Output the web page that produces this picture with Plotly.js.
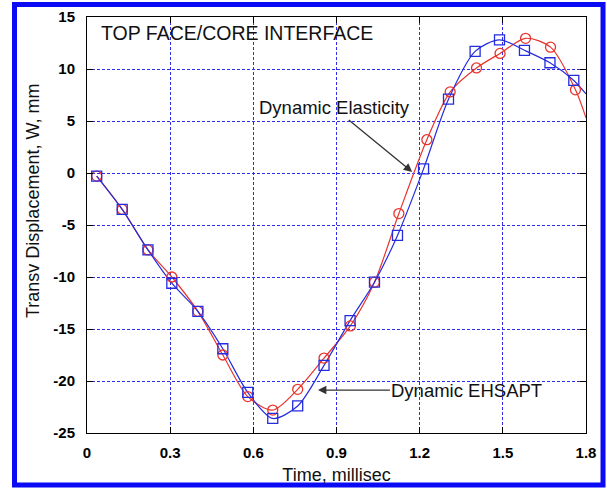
<!DOCTYPE html>
<html>
<head>
<meta charset="utf-8">
<script src="https://cdn.plot.ly/plotly-3.0.1.min.js"></script>
<style>
  html, body { margin: 0; padding: 0; background: #ffffff; }
  #chart { width: 607px; height: 496px; }
</style>
</head>
<body>
<div id="chart"></div>
<script>
// ---- data ----
// Dynamic Elasticity (red circles)
const elasT = [0.035, 0.127, 0.22, 0.306, 0.40, 0.49, 0.58, 0.67, 0.76, 0.855, 0.95, 1.037, 1.125, 1.226, 1.31, 1.405, 1.49, 1.582, 1.672, 1.762];
const elasW = [-0.3, -3.5, -7.4, -10.0, -13.3, -17.5, -21.5, -22.8, -20.8, -17.8, -14.7, -10.5, -3.9, 3.2, 7.8, 10.1, 11.5, 12.95, 12.1, 8.0];
const elasEndT = 1.8, elasEndW = 5.3;
// Dynamic EHSAPT (blue squares)
const ehsT = [0.035, 0.127, 0.22, 0.306, 0.40, 0.49, 0.58, 0.67, 0.76, 0.855, 0.949, 1.037, 1.12, 1.214, 1.304, 1.40, 1.488, 1.578, 1.67, 1.756];
const ehsW = [-0.3, -3.5, -7.4, -10.6, -13.3, -16.9, -21.1, -23.6, -22.4, -18.5, -14.2, -10.5, -6.0, 0.4, 7.1, 11.7, 12.8, 11.8, 10.6, 8.9];
const ehsEndT = 1.8, ehsEndW = 7.6;
// tick labels
const xTicks = [0, 0.3, 0.6, 0.9, 1.2, 1.5, 1.8];
const xTickText = ['0', '0.3', '0.6', '0.9', '1.2', '1.5', '1.8'];
const yTicks = [-25, -20, -15, -10, -5, 0, 5, 10, 15];
const yTickText = ['-25', '-20', '-15', '-10', '-5', '0', '5', '10', '15'];

const RED = 'rgb(232,52,44)';
const BLUE = 'rgb(36,44,222)';
const GRID = 'rgb(45,45,235)';

const traces = [
  { x: elasT.concat([elasEndT]), y: elasW.concat([elasEndW]), mode: 'lines',
    line: { color: RED, width: 1.2, shape: 'spline', smoothing: 0.8 }, showlegend: false, hoverinfo: 'skip' },
  { x: ehsT.concat([ehsEndT]), y: ehsW.concat([ehsEndW]), mode: 'lines',
    line: { color: BLUE, width: 1.2, shape: 'spline', smoothing: 0.8 }, showlegend: false, hoverinfo: 'skip' },
  { x: elasT, y: elasW, mode: 'markers', name: 'Dynamic Elasticity',
    marker: { symbol: 'circle-open', size: 10, color: RED, line: { width: 1.3, color: RED } }, showlegend: false },
  { x: ehsT, y: ehsW, mode: 'markers', name: 'Dynamic EHSAPT',
    marker: { symbol: 'square-open', size: 10, color: BLUE, line: { width: 1.3, color: BLUE } }, showlegend: false }
];

const axisCommon = {
  showline: true, linecolor: '#000', linewidth: 1, mirror: 'ticks',
  ticks: 'inside', ticklen: 6, tickcolor: '#000', tickwidth: 1,
  showgrid: true, gridcolor: GRID, gridwidth: 1, griddash: '3px,2px',
  zeroline: false,
  tickfont: { family: 'Liberation Sans, Arial, sans-serif', size: 15, color: '#000', weight: 'bold' }
};

const layout = {
  width: 607, height: 496,
  margin: { l: 87, r: 21, t: 17, b: 63 },
  paper_bgcolor: '#fff', plot_bgcolor: '#fff',
  font: { family: 'Liberation Sans, Arial, sans-serif', color: '#000' },
  xaxis: Object.assign({}, axisCommon, {
    range: [0, 1.8], tickvals: xTicks, ticktext: xTickText, ticklabelstandoff: 6,
    title: { text: 'Time, millisec', font: { size: 18, color: '#111' }, standoff: 8 }
  }),
  yaxis: Object.assign({}, axisCommon, {
    range: [-25, 15], tickvals: yTicks, ticktext: yTickText, ticklabelstandoff: 8
  }),
  shapes: [
    { type: 'rect', xref: 'paper', yref: 'paper',
      x0: -0.1453, x1: 1.0341, y0: -0.125, y1: 1.030,
      line: { color: 'rgb(10,10,245)', width: 5 }, fillcolor: 'rgba(0,0,0,0)', layer: 'above' }
  ],
  annotations: [
    { xref: 'paper', yref: 'paper', x: -0.108, y: 0.558, xanchor: 'center', yanchor: 'middle',
      text: 'Transv Displacement, W, mm', textangle: -90, showarrow: false,
      font: { size: 18, color: '#111' } },
    { xref: 'x', yref: 'y', x: 0.045, y: 13.46, xanchor: 'left', yanchor: 'middle',
      text: 'TOP FACE/CORE INTERFACE', showarrow: false, font: { size: 19.5, color: '#111' } },
    { xref: 'x', yref: 'y', x: 1.173, y: 0.1, ax: -78, ay: -64,
      text: 'Dynamic Elasticity', showarrow: true, arrowhead: 2, arrowsize: 1.3, arrowwidth: 1.3,
      arrowcolor: '#333', font: { size: 18.5, color: '#111' } },
    { xref: 'x', yref: 'y', x: 0.833, y: -20.87, ax: 149, ay: 0,
      text: 'Dynamic EHSAPT', showarrow: true, arrowhead: 2, arrowsize: 1.3, arrowwidth: 1.3,
      arrowcolor: '#333', font: { size: 18.5, color: '#111' } },
    { xref: 'paper', yref: 'paper', x: -0.183, y: -0.175, xanchor: 'left', yanchor: 'middle',
      text: '<b>Fig. 6   Transverse displacement for the dynamic elasticity and</b>', showarrow: false,
      font: { family: 'Liberation Serif, Times New Roman, serif', size: 17, color: '#000' } }
  ]
};

Plotly.newPlot('chart', traces, layout, { displayModeBar: false, staticPlot: true });
</script>
</body>
</html>
